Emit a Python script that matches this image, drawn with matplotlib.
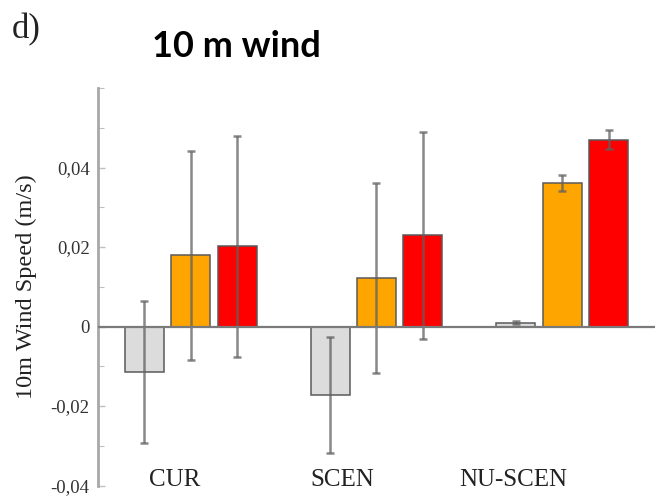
import matplotlib.pyplot as plt
import numpy as np
from matplotlib.ticker import FixedLocator, MultipleLocator

# 10 m wind speed change per experiment (m/s), three runs per experiment
experiments = ['CUR', 'SCEN', 'NU-SCEN']
gray_vals = [-0.0115, -0.0172, 0.0010]
gray_err = [0.0178, 0.0145, 0.0003]
orange_vals = [0.0179, 0.0122, 0.0361]
orange_err = [0.0262, 0.0240, 0.0020]
red_vals = [0.0202, 0.0229, 0.0470]
red_err = [0.0278, 0.0261, 0.0024]

ytick_vals = [-0.04, -0.02, 0, 0.02, 0.04]
ytick_labels = ['-0,04', '-0,02', '0', '0,02', '0,04']

fig = plt.figure(figsize=(6.55, 4.96), dpi=100)
ax = fig.add_axes([0.1496, 0.021, 0.8504, 0.8016])

x = np.arange(len(experiments))
width = 0.21
step = 0.25
series = [(gray_vals, gray_err, '#dcdcdc'),
          (orange_vals, orange_err, '#ffa500'),
          (red_vals, red_err, '#ff0000')]

for k, (vals, errs, color) in enumerate(series):
    pos = x + (k - 1) * step
    ax.bar(pos, vals, width, color=color, edgecolor='#5a5a5a', linewidth=1.1, zorder=2)
    ax.errorbar(pos, vals, yerr=errs, fmt='none', ecolor='#606060', alpha=0.75,
                elinewidth=1.8, capsize=3, capthick=1.8, zorder=3)

ax.axhline(0, color='#7a7a7a', linewidth=1.6, zorder=4)

ax.set_xlim(-0.5, 2.5)
ax.set_ylim(-0.04, 0.06)

for s in ['top', 'right', 'bottom']:
    ax.spines[s].set_visible(False)
ax.spines['left'].set_color('#a8a8a8')
ax.spines['left'].set_linewidth(2)

ax.yaxis.set_major_locator(FixedLocator(ytick_vals))
ax.set_yticklabels(ytick_labels)
ax.yaxis.set_minor_locator(MultipleLocator(0.01))
ax.tick_params(axis='y', which='both', direction='in', color='#c0c0c0',
               labelsize=13.5, pad=6, labelcolor='#333333')
ax.tick_params(axis='y', which='major', length=5, width=1)
ax.tick_params(axis='y', which='minor', length=4, width=0.8)
for t in ax.get_yticklabels():
    t.set_fontfamily('Liberation Serif')
ax.set_xticks([])

ax.set_ylabel('10m Wind Speed (m/s)', fontfamily='Liberation Serif', fontsize=17.5,
              color='#222222', labelpad=10)

# experiment names sit just above the bottom of the axis
label_offsets = [-0.086, -0.185, -0.266]
for i, name in enumerate(experiments):
    ax.text(x[i] + label_offsets[i], -0.0385, name, ha='center', va='center',
            fontfamily='Liberation Serif', fontsize=18, color='#222222', clip_on=False)

fig.text(0.361, 0.907, '10 m wind', ha='center', va='center',
         fontfamily='Lato', fontweight='bold', fontsize=26)
fig.text(0.018, 0.94, 'd)', ha='left', va='center',
         fontfamily='Liberation Serif', fontsize=25, color='#222222')

fig.savefig('out.png', dpi=100)
